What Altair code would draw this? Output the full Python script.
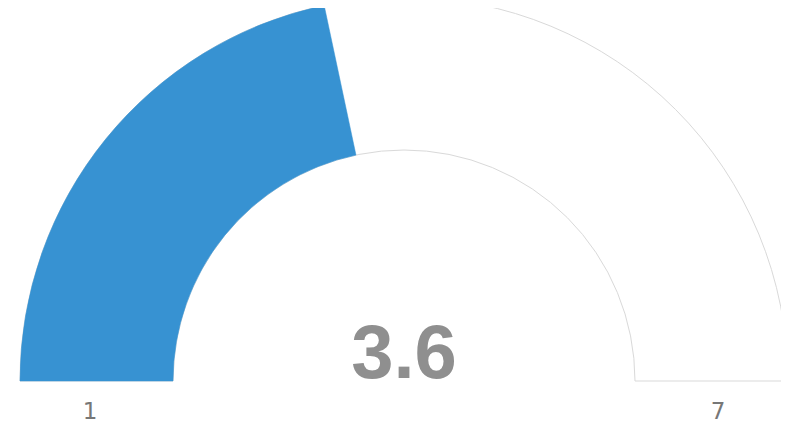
import math
import altair as alt
import pandas as pd

gauge_min = 1
gauge_max = 7
gauge_value = 3.6
end_labels = ["1", "7"]
parts = ["track", "value"]
part_start = [gauge_min, gauge_min]
part_end = [gauge_max, gauge_value]

bands = pd.DataFrame({"part": parts, "start": part_start, "end": part_end})
ends = pd.DataFrame({"pos": [gauge_min, gauge_max], "label": end_labels})
center = pd.DataFrame({"v": [gauge_value]})

theta_scale = alt.Scale(domain=[gauge_min, gauge_max], range=[-math.pi / 2, math.pi / 2])
CX, CY = 396, 373
R_OUT, R_IN = 384, 231

track = alt.Chart(bands).transform_filter(alt.datum.part == "track").mark_arc(
    x=CX, y=CY, radius=R_OUT, radius2=R_IN, fill="white", stroke="#d9d9d9", strokeWidth=1
).encode(theta=alt.Theta("start:Q", scale=theta_scale), theta2="end:Q")

value = alt.Chart(bands).transform_filter(alt.datum.part == "value").mark_arc(
    x=CX, y=CY, radius=R_OUT, radius2=R_IN, fill="#3792d2", stroke="#3792d2", strokeWidth=0.5
).encode(theta=alt.Theta("start:Q", scale=theta_scale), theta2="end:Q")

labels = alt.Chart(ends).mark_text(
    x=CX, y=CY, radius=314, dy=31, fontSize=23, color="#777777",
    font="DejaVu Sans", fontWeight="normal"
).encode(theta=alt.Theta("pos:Q", scale=theta_scale), text="label:N")

big = alt.Chart(center).mark_text(
    x=CX, y=CY, dy=-3, baseline="alphabetic", align="center", fontSize=76,
    fontWeight="bold", color="#8f8f8f", font="Liberation Sans"
).encode(text=alt.Text("v:Q", format=".1f"))

chart = alt.layer(track, value, labels, big).properties(
    width=773, height=419, padding=0, autosize=alt.AutoSizeParams(type="none")
).configure_view(stroke=None)

chart.save("out.html", embed_options={"renderer": "svg", "actions": False})
